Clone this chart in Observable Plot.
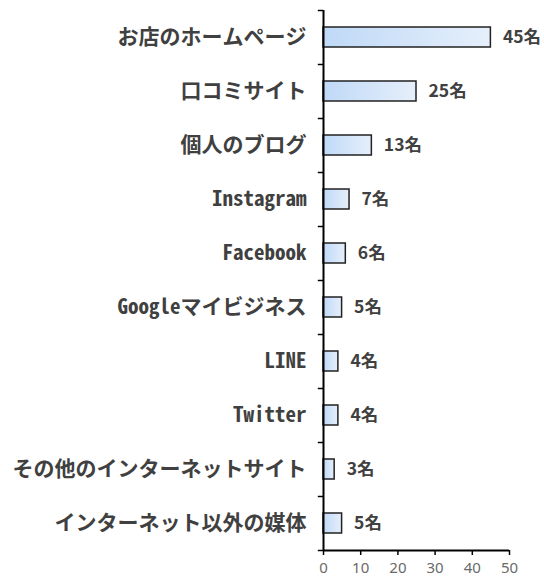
<!DOCTYPE html>
<html>
<head>
<meta charset="utf-8">
<script src="https://cdn.jsdelivr.net/npm/d3@7"></script>
<script src="https://cdn.jsdelivr.net/npm/@observablehq/plot@0.6"></script>
<style>
  html, body { margin: 0; padding: 0; background: #fff; }
  #chart { width: 544px; height: 581px; }
</style>
</head>
<body>
<div id="chart"></div>
<script>
const categories = ["お店のホームページ", "口コミサイト", "個人のブログ", "Instagram", "Facebook", "Googleマイビジネス", "LINE", "Twitter", "その他のインターネットサイト", "インターネット以外の媒体"];
const values = [45, 25, 13, 7, 6, 5, 4, 4, 3, 5];
const unit = "名";
const xTicks = [0, 10, 20, 30, 40, 50];

const data = categories.map((c, i) => ({cat: c, value: values[i]}));

const W = 544, H = 581, mT = 10, mB = 31, mL = 323, mR = 35;
const step = (H - mT - mB) / categories.length;

const plot = Plot.plot({
  width: W,
  height: H,
  marginTop: mT,
  marginBottom: mB,
  marginLeft: mL,
  marginRight: mR,
  style: {background: "#fff", overflow: "visible"},
  x: {domain: [0, 50], ticks: xTicks},
  y: {domain: categories, paddingInner: 0.63, paddingOuter: 0.315},
  marks: [
    Plot.axisY({
      tickSize: 0,
      tickPadding: 17,
      fontSize: 21,
      fontWeight: "bold",
      fill: "#404040",
      fontFamily: "'Noto Sans Mono CJK JP', 'Noto Sans CJK JP', sans-serif",
      label: null
    }),
    Plot.axisX({
      ticks: xTicks,
      tickSize: 5,
      tickPadding: 7,
      fontSize: 15,
      fill: "#6a6a6a",
      stroke: "#000",
      strokeWidth: 1.5,
      fontFamily: "'Noto Sans', sans-serif",
      label: null
    }),
    Plot.barX(data, {
      x: "value",
      y: "cat",
      fill: "url(#barGrad)",
      stroke: "#222",
      strokeWidth: 1.5
    }),
    Plot.text(data, {
      x: "value",
      y: "cat",
      text: d => d.value + unit,
      textAnchor: "start",
      dx: 12,
      fontSize: 17.5,
      fontWeight: "bold",
      fill: "#404040",
      fontFamily: "'Noto Sans CJK JP', sans-serif"
    }),
    // category boundary ticks on y axis
    Plot.ruleY(categories, {y: d => d, x1: -1.4, x2: 0, dy: -step / 2, stroke: "#000", strokeWidth: 1.5}),
    Plot.ruleY(categories.slice(-1), {y: d => d, x1: -1.4, x2: 0, dy: step / 2, stroke: "#000", strokeWidth: 1.5}),
    Plot.ruleX([0], {stroke: "#000", strokeWidth: 2}),
    Plot.ruleY(categories.slice(-1), {y: d => d, x1: 0, x2: 50, dy: step / 2, stroke: "#000", strokeWidth: 2})
  ]
});

const svg = d3.select(plot);
const defs = svg.insert("defs", ":first-child");
const grad = defs.append("linearGradient").attr("id", "barGrad")
  .attr("x1", "0%").attr("y1", "0%").attr("x2", "100%").attr("y2", "0%");
grad.append("stop").attr("offset", "0%").attr("stop-color", "#bfd9f7");
grad.append("stop").attr("offset", "100%").attr("stop-color", "#e6effb");

document.getElementById("chart").appendChild(plot);
</script>
</body>
</html>
